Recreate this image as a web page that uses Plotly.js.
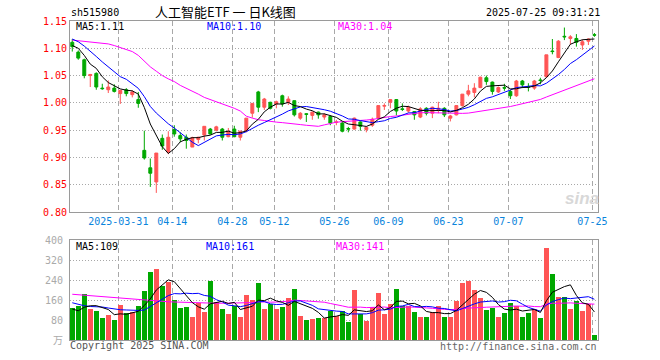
<!DOCTYPE html>
<html><head><meta charset="utf-8">
<script src="https://cdn.plot.ly/plotly-3.0.1.min.js"></script>
<style>html,body{margin:0;padding:0;background:#fff}#chart{width:660px;height:360px}</style>
</head><body><div id="chart"></div>
<script>
// ---------- data ----------
const dates = [
'2025-03-19','2025-03-20','2025-03-21','2025-03-24','2025-03-25','2025-03-26','2025-03-27','2025-03-28',
'2025-03-31','2025-04-01','2025-04-02','2025-04-03',
'2025-04-07','2025-04-08','2025-04-09','2025-04-10','2025-04-11',
'2025-04-14','2025-04-15','2025-04-16','2025-04-17','2025-04-18',
'2025-04-21','2025-04-22','2025-04-23','2025-04-24','2025-04-25',
'2025-04-28','2025-04-29','2025-04-30',
'2025-05-06','2025-05-07','2025-05-08','2025-05-09',
'2025-05-12','2025-05-13','2025-05-14','2025-05-15','2025-05-16',
'2025-05-19','2025-05-20','2025-05-21','2025-05-22','2025-05-23',
'2025-05-26','2025-05-27','2025-05-28','2025-05-29','2025-05-30',
'2025-06-03','2025-06-04','2025-06-05','2025-06-06',
'2025-06-09','2025-06-10','2025-06-11','2025-06-12','2025-06-13',
'2025-06-16','2025-06-17','2025-06-18','2025-06-19','2025-06-20',
'2025-06-23','2025-06-24','2025-06-25','2025-06-26','2025-06-27',
'2025-06-30','2025-07-01','2025-07-02','2025-07-03','2025-07-04',
'2025-07-07','2025-07-08','2025-07-09','2025-07-10','2025-07-11',
'2025-07-14','2025-07-15','2025-07-16','2025-07-17','2025-07-18',
'2025-07-21','2025-07-22','2025-07-23','2025-07-24','2025-07-25'];

const openP = [1.111,1.093,1.079,1.050,1.054,1.027,1.024,1.027,1.017,1.024,
 1.015,1.006,0.913,0.881,0.855,0.935,0.910,0.951,0.940,0.937,
 0.919,0.933,0.941,0.952,0.950,0.952,0.938,0.952,0.937,0.949,
 0.981,1.020,0.992,1.001,0.998,1.013,1.001,1.004,0.972,0.980,
 0.977,0.983,0.974,0.975,0.964,0.963,0.953,0.952,0.965,0.951,
 0.959,0.972,0.994,1.001,1.006,0.989,0.985,0.984,0.974,0.990,
 0.981,0.988,0.990,0.972,0.978,0.995,1.016,1.019,1.028,1.046,
 1.038,1.020,1.028,1.021,1.013,1.040,1.030,1.027,1.042,1.048,
 1.095,1.083,1.122,1.118,1.118,1.106,1.113,1.125];
const highP = [1.117,1.096,1.081,1.053,1.056,1.035,1.041,1.034,1.023,1.027,
 1.023,1.020,0.949,0.898,0.908,0.942,0.948,0.959,0.946,0.942,
 0.938,0.938,0.957,0.954,0.958,0.954,0.954,0.958,0.949,0.972,
 0.999,1.022,1.009,1.002,1.004,1.015,1.012,1.004,0.983,0.981,
 0.984,0.984,0.981,0.977,0.969,0.965,0.956,0.973,0.966,0.957,
 0.973,0.995,0.999,1.007,1.007,0.999,0.995,0.985,0.992,0.992,
 0.993,1.002,0.992,0.978,0.996,1.016,1.033,1.036,1.048,1.050,
 1.039,1.030,1.035,1.024,1.042,1.042,1.036,1.042,1.046,1.088,
 1.117,1.115,1.138,1.124,1.126,1.116,1.118,1.128];
const lowP = [1.094,1.079,1.045,1.029,1.024,1.024,1.018,1.019,0.998,1.012,
 1.010,0.991,0.896,0.846,0.835,0.914,0.906,0.938,0.928,0.916,
 0.919,0.926,0.931,0.942,0.948,0.931,0.937,0.937,0.931,0.946,
 0.973,0.983,0.987,0.988,0.990,0.993,0.996,0.975,0.969,0.965,
 0.969,0.971,0.969,0.959,0.959,0.946,0.946,0.951,0.949,0.946,
 0.956,0.970,0.987,0.990,0.977,0.985,0.982,0.969,0.972,0.977,
 0.972,0.981,0.974,0.966,0.977,0.993,1.012,1.010,1.027,1.033,
 1.015,1.018,1.022,1.007,1.011,1.027,1.021,1.024,1.034,1.046,
 1.089,1.082,1.115,1.107,1.103,1.097,1.106,1.121];
const closeP = [1.103,1.082,1.050,1.052,1.029,1.026,1.029,1.021,1.023,1.017,
 1.020,0.999,0.899,0.871,0.908,0.921,0.937,0.943,0.934,0.931,
 0.936,0.937,0.957,0.943,0.956,0.937,0.948,0.938,0.948,0.972,
 0.999,0.992,1.007,0.990,1.002,0.998,1.007,0.978,0.981,0.979,
 0.983,0.978,0.978,0.963,0.965,0.948,0.952,0.972,0.957,0.955,
 0.970,0.995,0.995,1.006,0.985,0.988,0.992,0.978,0.989,0.981,
 0.992,0.990,0.978,0.976,0.995,1.016,1.022,1.027,1.047,1.039,
 1.021,1.028,1.027,1.013,1.040,1.033,1.029,1.040,1.041,1.088,
 1.094,1.113,1.121,1.121,1.111,1.112,1.117,1.124];
// volume, in 万
const volume = [127,137,183,124,116,87,100,80,140,107,
 111,136,196,272,285,217,233,160,129,133,
 93,149,112,237,152,125,104,136,93,180,
 161,228,125,143,125,132,168,204,96,80,
 85,88,90,118,95,117,73,200,103,76,
 133,189,104,144,204,136,136,113,93,93,
 113,136,93,93,157,229,237,200,167,120,
 129,93,109,149,136,93,109,124,89,369,
 264,173,173,124,157,116,144,20];

// moving-average values before enough history exists
const ma5Head  = [1.105,1.100,1.087,1.071];
const ma10Head = [1.117,1.112,1.104,1.095,1.085,1.075,1.066,1.058,1.048];
const ma30Head = [1.115,1.114,1.113,1.112,1.111,1.110,1.108,1.105,1.101,1.098,
 1.094,1.087,1.077,1.066,1.058,1.050,1.044,1.039,1.032,1.027,
 1.021,1.016,1.010,1.006,1.003,0.999,0.995,0.990,0.985];
const volMa5Head  = [124,117,131,137];
const volMa10Head = [149,142,137,134,133,132,128,124,121];
const volMa30Head = [183,181,180,179,176,175,172,169,167,164,
 163,160,159,157,156,155,153,152,151,149,
 148,147,147,147,147,147,147,147,148];

const tickDates  = ['2025-03-31','2025-04-14','2025-04-28','2025-05-12','2025-05-26','2025-06-09','2025-06-23','2025-07-07','2025-07-25'];
const tickLabels = ['2025-03-31','04-14','04-28','05-12','05-26','06-09','06-23','07-07','07-25'];
const priceTicks = [0.80,0.85,0.90,0.95,1.00,1.05,1.10,1.15];
const volTicks   = [0,80,160,240,320,400];
const volTickLabels = ['万','80','160','240','320','400'];

const titleText = '人工智能ETF\u00a0一\u00a0日K线图';
const codeText  = 'sh515980';
const timeText  = '2025-07-25 09:31:21';
const maLabels  = ['MA5:1.11','MA10:1.10','MA30:1.04'];
const volMaLabels = ['MA5:109','MA10:161','MA30:141'];

// ---------- build ----------
const RED = '#ff5555', GREEN = '#00a800';
const MONO = '"DejaVu Sans Mono", "Liberation Mono", "Noto Sans CJK SC", monospace';
const xIdx = dates.map((d, i) => i);
function rolling(arr, n, head) {
  return arr.map((v, i) => {
    if (i < n - 1) return head[i];
    let s = 0; for (let k = i - n + 1; k <= i; k++) s += arr[k];
    return s / n;
  });
}
const ma5 = rolling(closeP, 5, ma5Head), ma10 = rolling(closeP, 10, ma10Head), ma30 = rolling(closeP, 30, ma30Head);
const vma5 = rolling(volume, 5, volMa5Head), vma10 = rolling(volume, 10, volMa10Head), vma30 = rolling(volume, 30, volMa30Head);
const volColors = closeP.map((c, i) => c >= openP[i] ? RED : GREEN);
const tickPos = tickDates.map(d => dates.indexOf(d) - 0.33);

const traces = [
  {type:'candlestick', x:xIdx, open:openP, high:highP, low:lowP, close:closeP,
   increasing:{line:{color:RED, width:1}, fillcolor:RED},
   decreasing:{line:{color:GREEN, width:1}, fillcolor:GREEN},
   whiskerwidth:0, hoverinfo:'skip', xaxis:'x', yaxis:'y'},
  {type:'scatter', mode:'lines', x:xIdx, y:ma30, line:{color:'#ff00ff', width:1}, xaxis:'x', yaxis:'y'},
  {type:'scatter', mode:'lines', x:xIdx, y:ma10, line:{color:'#0000ff', width:1}, xaxis:'x', yaxis:'y'},
  {type:'scatter', mode:'lines', x:xIdx, y:ma5, line:{color:'#000000', width:1}, xaxis:'x', yaxis:'y'},
  {type:'bar', x:xIdx, y:volume, width:0.82, marker:{color:volColors, line:{width:0}}, xaxis:'x2', yaxis:'y2'},
  {type:'scatter', mode:'lines', x:xIdx, y:vma30, line:{color:'#ff00ff', width:1}, xaxis:'x2', yaxis:'y2'},
  {type:'scatter', mode:'lines', x:xIdx, y:vma10, line:{color:'#0000ff', width:1}, xaxis:'x2', yaxis:'y2'},
  {type:'scatter', mode:'lines', x:xIdx, y:vma5, line:{color:'#000000', width:1}, xaxis:'x2', yaxis:'y2'}
];

const W = 660, H = 360, L = 70, R = 62, T = 21, B = 20;
const pw = W - L - R, ph = H - T - B;
const px = x => (x - L) / pw, py = y => (H - B - y) / ph;
const xr = [-0.38, 87.6];
const gridC = '#a8a8a8', boxC = '#9a9a9a';

function ann(text, x, y, xa, color, size, family) {
  return {text, x:px(x), y:py(y), xref:'paper', yref:'paper', xanchor:xa, yanchor:'middle',
    showarrow:false, borderpad:0, font:{family: family || MONO, size: size || 10, color}};
}

const layout = {
  width:W, height:H, margin:{l:L, r:R, t:T, b:B}, paper_bgcolor:'#fff', plot_bgcolor:'#fff',
  showlegend:false, boxgap:0.3, bargap:0,
  xaxis:{domain:[0,1], range:xr, anchor:'y', tickmode:'array', tickvals:tickPos, ticktext:tickLabels,
    showgrid:true, gridcolor:gridC, griddash:'5px,3px', gridwidth:1, zeroline:false,
    showline:true, mirror:true, linecolor:boxC, linewidth:1, ticks:'',
    tickfont:{family:MONO, size:10, color:'#0a84dc'}, rangeslider:{visible:false}, fixedrange:true},
  yaxis:{domain:[(H-B-212)/ph, 1], range:[0.80,1.15], tickmode:'array', tickvals:priceTicks,
    ticktext:priceTicks.map(v => v.toFixed(2)), showgrid:true, gridcolor:gridC, griddash:'1px,2px',
    zeroline:false, showline:true, mirror:true, linecolor:boxC, linewidth:1, ticks:'',
    tickfont:{family:MONO, size:10, color:'#ff0000'}, fixedrange:true},
  xaxis2:{domain:[0,1], range:xr, anchor:'y2', tickmode:'array', tickvals:tickPos, showticklabels:false,
    showgrid:true, gridcolor:gridC, griddash:'5px,3px', zeroline:false,
    showline:true, mirror:true, linecolor:boxC, linewidth:1, ticks:'', fixedrange:true},
  yaxis2:{domain:[0, (H-B-240)/ph], range:[0,400], tickmode:'array', tickvals:volTicks, ticktext:volTickLabels,
    showgrid:true, gridcolor:gridC, griddash:'1px,2px', zeroline:false, showline:true, mirror:true,
    linecolor:boxC, linewidth:1, ticks:'', ticklabelstandoff:4,
    tickfont:{family:MONO, size:10, color:'#aaaaaa'}, fixedrange:true},
  annotations:[
    ann(codeText, 70, 12.5, 'left', '#000'),
    ann(titleText, 225, 12, 'center', '#000', 13, '"Noto Sans CJK SC", sans-serif'),
    ann(timeText, 601, 12.5, 'right', '#000'),
    ann(maLabels[0], 75, 27, 'left', '#000'),
    ann(maLabels[1], 206, 27, 'left', '#0000ff'),
    ann(maLabels[2], 337, 27, 'left', '#ff00ff'),
    ann(volMaLabels[0], 75, 246.5, 'left', '#000'),
    ann(volMaLabels[1], 205, 246.5, 'left', '#0000ff'),
    ann(volMaLabels[2], 335, 246.5, 'left', '#ff00ff'),
    ann('Copyright 2025 SINA.COM', 69, 345.5, 'left', '#555'),
    ann('http://finance.sina.com.cn', 598, 346, 'right', '#666'),
    ann('<i><b>sina</b></i>', 582, 198, 'center', '#d8d8d8', 17, 'Arial, sans-serif')
  ]
};

Plotly.newPlot('chart', traces, layout, {staticPlot:true, displayModeBar:false});
</script>
</body></html>
